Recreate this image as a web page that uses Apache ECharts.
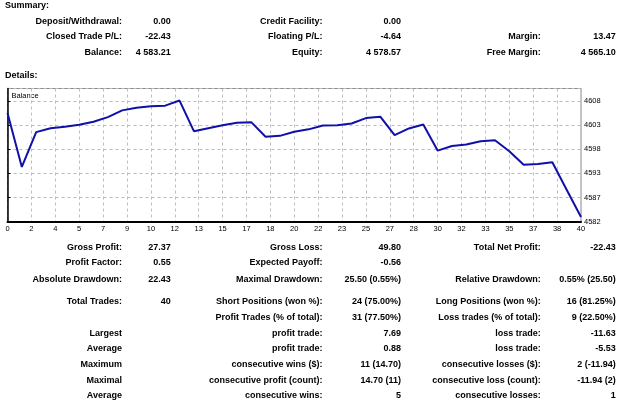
<!DOCTYPE html>
<html>
<head>
<meta charset="utf-8">
<script src="https://cdn.jsdelivr.net/npm/echarts@6.0.0/dist/echarts.min.js"></script>
<style>
  html, body { margin: 0; padding: 0; background: #fff; }
  #main { width: 625px; height: 404px; }
</style>
</head>
<body>
<div id="main"></div>
<script>
// balance after each trade (trade 0 = start)
var balance = [4605.64, 4594.01, 4601.5, 4602.35, 4602.66, 4603.09, 4603.74, 4604.74, 4606.19, 4606.77,
  4607.06, 4607.2, 4608.3, 4601.7, 4602.35, 4603.0, 4603.5, 4603.65, 4600.5, 4600.7,
  4601.57, 4602.1, 4602.94, 4603.0, 4603.37, 4604.52, 4604.82, 4600.84, 4602.29, 4603.15,
  4597.52, 4598.5, 4598.82, 4599.54, 4599.75, 4597.37, 4594.49, 4594.64, 4595.0, 4589.07,
  4583.21];
var xLabels = ['0', '2', '4', '5', '7', '9', '10', '12', '13', '15', '17', '18', '20',
  '22', '23', '25', '27', '28', '30', '32', '33', '35', '37', '38', '40'];
var yLabels = ['4582', '4587', '4593', '4598', '4603', '4608'];
var yMin = 4582.2, yStep = 5.2, yMax = 4610.9;

var summaryRows = [
  ['Deposit/Withdrawal:', '0.00', 'Credit Facility:', '0.00', '', ''],
  ['Closed Trade P/L:', '-22.43', 'Floating P/L:', '-4.64', 'Margin:', '13.47'],
  ['Balance:', '4 583.21', 'Equity:', '4 578.57', 'Free Margin:', '4 565.10']
];
var detailRows = [
  ['Gross Profit:', '27.37', 'Gross Loss:', '49.80', 'Total Net Profit:', '-22.43'],
  ['Profit Factor:', '0.55', 'Expected Payoff:', '-0.56', '', ''],
  ['Absolute Drawdown:', '22.43', 'Maximal Drawdown:', '25.50 (0.55%)', 'Relative Drawdown:', '0.55% (25.50)'],
  ['Total Trades:', '40', 'Short Positions (won %):', '24 (75.00%)', 'Long Positions (won %):', '16 (81.25%)'],
  ['', '', 'Profit Trades (% of total):', '31 (77.50%)', 'Loss trades (% of total):', '9 (22.50%)'],
  ['Largest', '', 'profit trade:', '7.69', 'loss trade:', '-11.63'],
  ['Average', '', 'profit trade:', '0.88', 'loss trade:', '-5.53'],
  ['Maximum', '', 'consecutive wins ($):', '11 (14.70)', 'consecutive losses ($):', '2 (-11.94)'],
  ['Maximal', '', 'consecutive profit (count):', '14.70 (11)', 'consecutive loss (count):', '-11.94 (2)'],
  ['Average', '', 'consecutive wins:', '5', 'consecutive losses:', '1']
];

var summaryY = [21.7, 36.7, 52.3];
var detailY = [247.3, 263, 279.3, 302, 318, 333.7, 349, 364.7, 380.3, 396];
var colRight = [122, 170.7, 322.5, 401, 540.7, 615.7];
var boldFont = 'bold 9px "Liberation Sans", Arial, sans-serif';
var smallFont = '7.5px "Liberation Sans", Arial, sans-serif';

function textEl(str, x, y, align, font) {
  return {
    type: 'text',
    x: x,
    y: y,
    silent: true,
    style: {
      text: str,
      fill: '#000',
      font: font,
      textAlign: align,
      textVerticalAlign: 'middle',
      align: align,
      verticalAlign: 'middle'
    }
  };
}

var graphics = [];
graphics.push(textEl('Summary:', 5, 5.5, 'left', boldFont));
graphics.push(textEl('Details:', 5, 75.3, 'left', boldFont));
function addRows(rows, ys) {
  rows.forEach(function (row, r) {
    row.forEach(function (cell, c) {
      if (cell) graphics.push(textEl(cell, colRight[c], ys[r], 'right', boldFont));
    });
  });
}
addRows(summaryRows, summaryY);
addRows(detailRows, detailY);
graphics.push(textEl('Balance', 11.5, 95.5, 'left', smallFont));

var points = balance.map(function (v, i) { return [i, v]; });

var chart = echarts.init(document.getElementById('main'));
chart.setOption({
  backgroundColor: '#fff',
  animation: false,
  grid: {
    left: 7.5,
    right: 44,
    top: 88.5,
    bottom: 182.3,
    show: true,
    borderColor: '#8a8a8a',
    borderWidth: 1,
    backgroundColor: '#fff'
  },
  xAxis: [
    {
      // grid / label axis: 24 even steps
      type: 'value',
      min: 0,
      max: 24,
      interval: 1,
      axisLine: { show: true, onZero: false, lineStyle: { color: '#000', width: 2 } },
      axisTick: { show: false },
      splitLine: { show: true, lineStyle: { color: '#bdbdbd', type: [3, 3], width: 1 } },
      axisLabel: {
        margin: 3,
        color: '#000',
        fontSize: 7.5,
        fontFamily: 'Liberation Sans',
        formatter: function (v) { return xLabels[Math.round(v)] || ''; }
      }
    },
    {
      // trade index axis used by the line
      type: 'value',
      min: 0,
      max: balance.length - 1,
      show: false
    }
  ],
  yAxis: {
    type: 'value',
    position: 'right',
    min: yMin,
    max: yMax,
    interval: yStep,
    axisLine: { show: true, lineStyle: { color: '#000', width: 1.5 } },
    axisTick: { show: true, length: 3, lineStyle: { color: '#000' } },
    splitLine: { show: true, lineStyle: { color: '#bdbdbd', type: [3, 3], width: 1 } },
    axisLabel: {
      margin: 3,
      color: '#000',
      fontSize: 7.5,
      fontFamily: 'Liberation Sans',
      showMaxLabel: false,
      formatter: function (v) {
        var k = Math.round((v - yMin) / yStep);
        return Math.abs(v - (yMin + k * yStep)) < 0.01 ? (yLabels[k] || '') : '';
      }
    }
  },
  series: [{
    type: 'line',
    xAxisIndex: 1,
    data: points,
    showSymbol: false,
    lineStyle: { color: '#1010a8', width: 2 },
    z: 3
  }],
  graphic: graphics
});
</script>
</body>
</html>
